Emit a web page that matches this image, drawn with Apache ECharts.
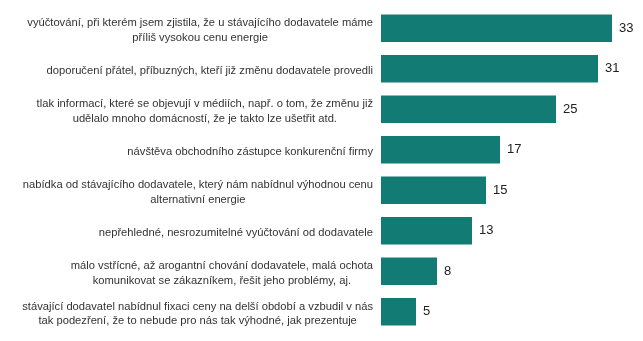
<!DOCTYPE html>
<html>
<head>
<meta charset="utf-8">
<script src="https://cdn.jsdelivr.net/npm/echarts@6/dist/echarts.min.js"></script>
<style>
html,body{margin:0;padding:0;background:#fff;}
#c{width:643px;height:341px;}
</style>
</head>
<body>
<div id="c"></div>
<script>
const categories = [
  "vyúčtování, při kterém jsem zjistila, že u stávajícího dodavatele máme\npříliš vysokou cenu energie",
  "doporučení přátel, příbuzných, kteří již změnu dodavatele provedli",
  "tlak informací, které se objevují v médiích, např. o tom, že změnu již\nudělalo mnoho domácností, že je takto lze ušetřit atd.",
  "návštěva obchodního zástupce konkurenční firmy",
  "nabídka od stávajícího dodavatele, který nám nabídnul výhodnou cenu\nalternativní energie",
  "nepřehledné, nesrozumitelné vyúčtování od dodavatele",
  "málo vstřícné, až arogantní chování dodavatele, malá ochota\nkomunikovat se zákazníkem, řešit jeho problémy, aj.",
  "stávající dodavatel nabídnul fixaci ceny na delší období a vzbudil v nás\ntak podezření, že to nebude pro nás tak výhodné, jak prezentuje"
];
const values = [33, 31, 25, 17, 15, 13, 8, 5];

const chart = echarts.init(document.getElementById('c'), null, {renderer: 'canvas'});
chart.setOption({
  backgroundColor: '#ffffff',
  animation: false,
  grid: {left: 381, right: 17, top: 8, bottom: 9, containLabel: false},
  xAxis: {
    type: 'value', min: 0, max: 35, show: false
  },
  yAxis: {
    type: 'category', data: categories, inverse: true,
    axisLine: {show: false}, axisTick: {show: false}, splitLine: {show: false},
    axisLabel: {
      margin: 8,
      color: '#333',
      fontFamily: 'Liberation Sans, Arial, sans-serif',
      fontSize: 11.2,
      lineHeight: 14.5,
      padding: [4, 0, 0, 0],
      formatter: v => v.split('\n').map(l => '{c|' + l + '}').join('\n'),
      rich: {c: {align: 'center', fontSize: 11.2, lineHeight: 14.5, color: '#333', fontFamily: 'Liberation Sans, Arial, sans-serif'}}
    }
  },
  series: [{
    type: 'bar', data: values,
    barCategoryGap: '32%',
    itemStyle: {color: '#127b74'},
    label: {
      show: true, position: 'right', distance: 7,
      color: '#222', fontSize: 13, fontFamily: 'Liberation Sans, Arial, sans-serif'
    }
  }]
});
</script>
</body>
</html>
